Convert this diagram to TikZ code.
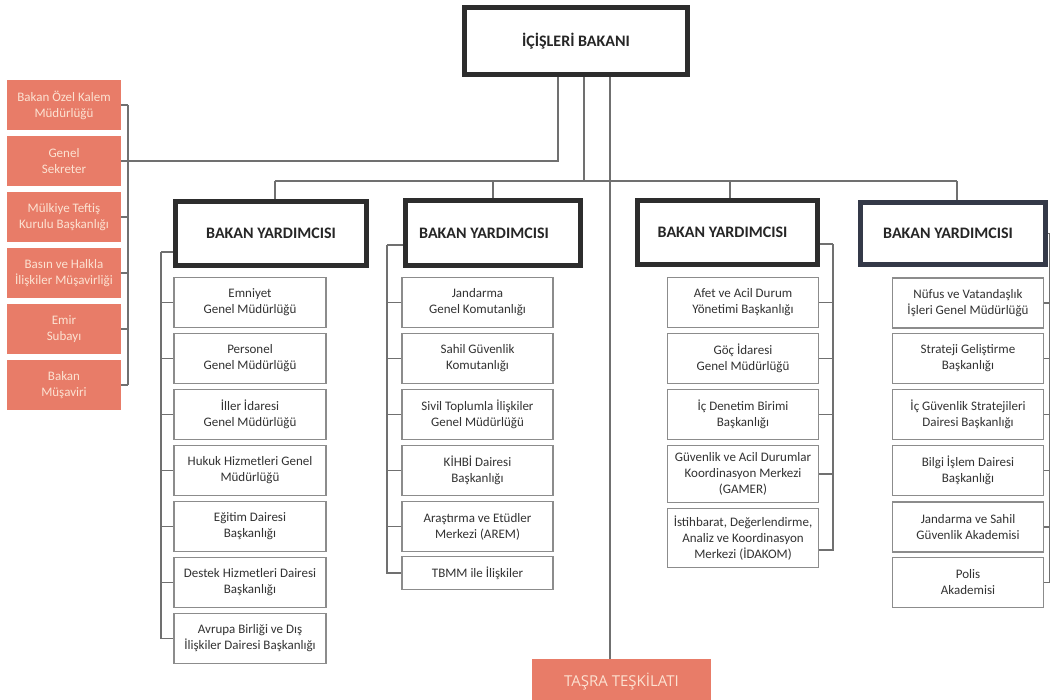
\documentclass[tikz,border=0pt]{standalone}
\usepackage{fontspec}
\setmainfont{Carlito}
\newfontfamily\tasrafont{Open Sans}
\definecolor{salmon}{RGB}{232,124,104}
\definecolor{salmontxt}{RGB}{252,226,210}
\definecolor{hdr}{RGB}{45,45,45}
\definecolor{hdrblue}{RGB}{52,57,72}
\definecolor{sborder}{RGB}{140,140,140}
\definecolor{stxt}{RGB}{50,50,50}
\definecolor{conncol}{RGB}{112,112,112}
\begin{document}
\begin{tikzpicture}[x=1pt,y=-1pt,
  hbox/.style={draw=hdr,line width=5pt,fill=white,inner sep=0pt,
    font=\fontsize{16}{19}\selectfont\bfseries,text=black!85},
  sbox/.style={draw=sborder,line width=1.3pt,fill=white,inner sep=1pt,align=center,
    minimum height=50pt,font=\fontsize{13}{16}\selectfont,text=stxt},
  pbox/.style={fill=salmon,inner sep=0pt,align=center,minimum width=114pt,minimum height=50pt,
    font=\fontsize{13}{16}\selectfont,text=salmontxt},
  conn/.style={draw=conncol,line width=1.3pt}]
\useasboundingbox (0,0) rectangle (1051,699);

% top
\node[hbox,minimum width=223pt,minimum height=67pt,font=\fontsize{16}{19}\selectfont\bfseries] (top) at (576,41) {\raisebox{-5pt}{İÇİŞLERİ BAKANI}};

% left salmon boxes
\node[pbox] (p1) at (64,105) {Bakan Özel Kalem\\Müdürlüğü};
\node[pbox] (p2) at (64,161) {Genel\\Sekreter};
\node[pbox] (p3) at (64,217) {Mülkiye Teftiş\\Kurulu Başkanlığı};
\node[pbox] (p4) at (64,273) {Basın ve Halkla\\İlişkiler Müşavirliği};
\node[pbox] (p5) at (64,329) {Emir\\Subayı};
\node[pbox] (p6) at (64,385) {Bakan\\Müşaviri};

% header boxes
\node[hbox,minimum width=191pt,minimum height=64pt] (v1) at (271,233.5) {BAKAN YARDIMCISI};
\node[hbox,minimum width=175pt,minimum height=65pt] (v2) at (493,233) {\hspace*{-18pt}BAKAN YARDIMCISI};
\node[hbox,minimum width=180pt,minimum height=64pt] (v3) at (727.5,232.5) {\hspace*{-10pt}BAKAN YARDIMCISI};
\node[hbox,draw=hdrblue,minimum width=185pt,minimum height=62pt] (v4) at (953,233.5) {\hspace*{-10pt}BAKAN YARDIMCISI};

% column 1
\begin{scope}[every node/.style={sbox,minimum width=152pt}]
\node (a1) at (250,302.5) {Emniyet\\Genel Müdürlüğü};
\node (a2) at (250,358.5) {Personel\\Genel Müdürlüğü};
\node (a3) at (250,414.5) {İller İdaresi\\Genel Müdürlüğü};
\node (a4) at (250,470.5) {Hukuk Hizmetleri Genel\\Müdürlüğü};
\node (a5) at (250,526.5) {Eğitim Dairesi\\Başkanlığı};
\node (a6) at (250,582.5) {Destek Hizmetleri Dairesi\\Başkanlığı};
\node (a7) at (250,638.5) {Avrupa Birliği ve Dış\\İlişkiler Dairesi Başkanlığı};
\end{scope}

% column 2
\begin{scope}[every node/.style={sbox,minimum width=151pt}]
\node (b1) at (477.5,302.5) {Jandarma\\Genel Komutanlığı};
\node (b2) at (477.5,358.5) {Sahil Güvenlik\\Komutanlığı};
\node (b3) at (477.5,414.5) {Sivil Toplumla İlişkiler\\Genel Müdürlüğü};
\node (b4) at (477.5,470.5) {KİHBİ Dairesi\\Başkanlığı};
\node (b5) at (477.5,526.5) {Araştırma ve Etüdler\\Merkezi (AREM)};
\node[minimum height=33pt] (b6) at (477.5,573) {TBMM ile İlişkiler};
\end{scope}

% column 3
\begin{scope}[every node/.style={sbox,minimum width=151pt}]
\node (c1) at (743,302.5) {Afet ve Acil Durum\\Yönetimi Başkanlığı};
\node (c2) at (743,358.5) {Göç İdaresi\\Genel Müdürlüğü};
\node (c3) at (743,414.5) {İç Denetim Birimi\\Başkanlığı};
\node[minimum height=57pt] (c4) at (743,474) {Güvenlik ve Acil Durumlar\\Koordinasyon Merkezi\\(GAMER)};
\node[minimum height=59pt] (c5) at (743,538) {İstihbarat, Değerlendirme,\\Analiz ve Koordinasyon\\Merkezi (İDAKOM)};
\end{scope}

% column 4
\begin{scope}[every node/.style={sbox,minimum width=151pt}]
\node (d1) at (968,303) {Nüfus ve Vatandaşlık\\İşleri Genel Müdürlüğü};
\node (d2) at (968,358.5) {Strateji Geliştirme\\Başkanlığı};
\node (d3) at (968,414.5) {İç Güvenlik Stratejileri\\Dairesi Başkanlığı};
\node (d4) at (968,470.5) {Bilgi İşlem Dairesi\\Başkanlığı};
\node (d5) at (968,527) {Jandarma ve Sahil\\Güvenlik Akademisi};
\node (d6) at (968,582.5) {Polis\\Akademisi};
\end{scope}

% taşra
\node[fill=salmon,minimum width=179pt,minimum height=46pt,font=\tasrafont\fontsize{15}{18}\selectfont,text=salmontxt] (tasra) at (621.5,682) {\raisebox{1pt}{TAŞRA TEŞKİLATI}};

% coordinates for connectors
\coordinate (lb) at (128,161);
\coordinate (bus) at (0,181);
\coordinate (k1) at (161,252);
\coordinate (k2) at (387,245);
\coordinate (k3) at (833,244);
\coordinate (k4) at (1049.5,233.5);

% left bracket
\foreach \n in {p1,p2,p3,p4,p5,p6} \draw[conn] (\n.east) -- (\n.east -| lb);
\draw[conn] (p1.east -| lb) -- (p6.east -| lb);
\draw[conn] ([xshift=-18pt]top.south) |- (lb);
% bus
\draw[conn] ([xshift=8pt]top.south) -- ([xshift=8pt]top.south |- bus);
\draw[conn] ([xshift=4pt]v1.north |- bus) -- ([xshift=4pt]v4.north |- bus);
\draw[conn] ([xshift=4pt]v1.north |- bus) -- ([xshift=4pt]v1.north);
\draw[conn] (v2.north |- bus) -- (v2.north);
\draw[conn] ([xshift=2.5pt]v3.north |- bus) -- ([xshift=2.5pt]v3.north);
\draw[conn] ([xshift=4pt]v4.north |- bus) -- ([xshift=4pt]v4.north);
% taşra
\draw[conn] ([xshift=34pt]top.south) -- ([xshift=34pt]top.south |- tasra.north);
% column brackets
\draw[conn] (k1) -- (k1 -| v1.west);
\draw[conn] (k1) |- (a7.west);
\foreach \n in {a1,a2,a3,a4,a5,a6} \draw[conn] (\n.west) -- (\n.west -| k1);
\draw[conn] (k2) -- (k2 -| v2.west);
\draw[conn] (k2) |- (b6.west);
\foreach \n in {b1,b2,b3,b4,b5} \draw[conn] (\n.west) -- (\n.west -| k2);
\draw[conn] (k3) -- (k3 -| v3.east);
\draw[conn] (k3) |- ([yshift=-12pt]c5.east);
\foreach \n in {c1,c2,c3,c4} \draw[conn] (\n.east) -- (\n.east -| k3);
\draw[conn] (k4) -- (k4 -| v4.east);
\draw[conn] (k4) |- (d6.east);
\foreach \n in {d1,d2,d3,d4,d5} \draw[conn] (\n.east) -- (\n.east -| k4);
\end{tikzpicture}
\end{document}
